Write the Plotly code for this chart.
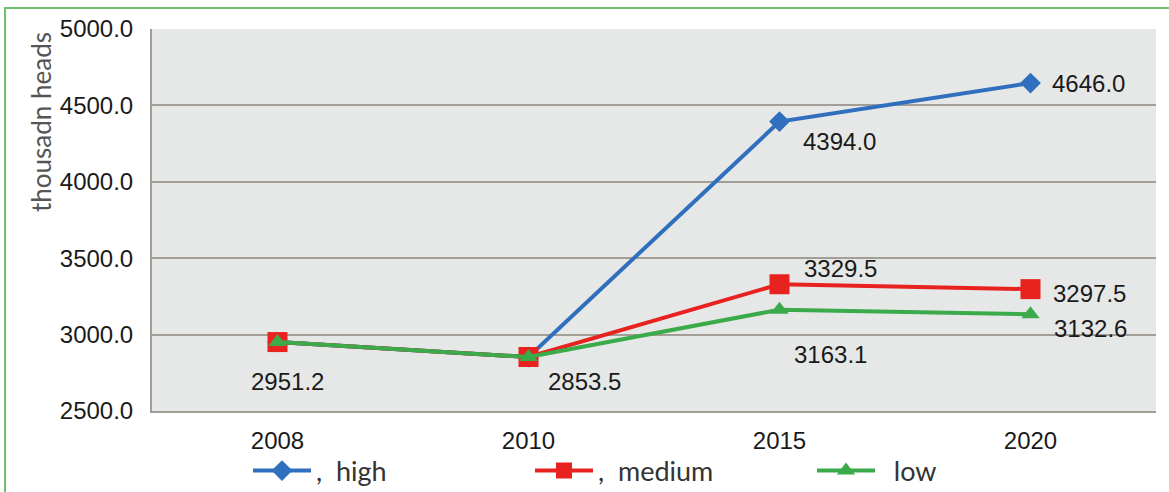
import plotly.graph_objects as go

years = ["2008", "2010", "2015", "2020"]
high = [2951.2, 2853.5, 4394.0, 4646.0]
medium = [2951.2, 2853.5, 3329.5, 3297.5]
low = [2951.2, 2853.5, 3163.1, 3132.6]
y_ticks = [2500, 3000, 3500, 4000, 4500, 5000]
y_tick_text = ["2500.0", "3000.0", "3500.0", "4000.0", "4500.0", "5000.0"]

# data labels: (series, index, xshift, yshift)
label_specs = [
    (low, 0, 10, -39),
    (low, 1, 56, -25),
    (high, 2, 60, -20),
    (high, 3, 58, 0),
    (medium, 2, 61, 16),
    (medium, 3, 59, -4),
    (low, 2, 51, -45),
    (low, 3, 60, -14),
]

L, R, T, B = 152, 13, 29, 81
W, H = 1169, 492
pw = W - L - R
ph = H - T - B
xpos = list(range(len(years)))

fig = go.Figure()
fig.add_trace(go.Scatter(
    x=xpos, y=high, name=",\u00a0 high", mode="lines+markers",
    line=dict(color="#2f6fbe", width=4),
    marker=dict(symbol="diamond", size=16, color="#2f6fbe"),
))
fig.add_trace(go.Scatter(
    x=xpos, y=medium, name=",\u00a0 medium", mode="lines+markers",
    line=dict(color="#e8231f", width=4),
    marker=dict(symbol="square", size=20, color="#e8231f"),
))
fig.add_trace(go.Scatter(
    x=xpos, y=low, name="\u00a0 low", mode="lines+markers",
    line=dict(color="#3aaa4a", width=4),
    marker=dict(symbol="triangle-up", size=16, color="#3aaa4a"),
))

annotations = []
for series, i, dx, dy in label_specs:
    annotations.append(dict(
        x=xpos[i], y=series[i], xref="x", yref="y",
        text=f"{series[i]:.1f}", showarrow=False,
        xanchor="center", yanchor="middle", xshift=dx, yshift=dy,
        font=dict(family="Liberation Sans, Arial", size=24, color="#1a1a1a"),
    ))

annotations.append(dict(
    x=(41 - L) / pw, y=(H - B - 122) / ph, xref="paper", yref="paper",
    text="thousadn heads", textangle=-90, showarrow=False,
    xanchor="center", yanchor="middle",
    font=dict(family="Lato, Open Sans", size=26, color="#555555"),
))

fig.update_layout(
    width=W, height=H,
    margin=dict(l=L, r=R, t=T, b=B, pad=0, autoexpand=False),
    paper_bgcolor="white",
    plot_bgcolor="#e6e8e7",
    showlegend=True,
    legend=dict(
        orientation="h", x=(248 - L) / pw, xanchor="left",
        y=(H - B - 471) / ph, yanchor="middle",
        font=dict(family="Lato, Open Sans", size=27, color="#333333"),
        itemwidth=58, entrywidth=209, entrywidthmode="pixels",
        bgcolor="rgba(0,0,0,0)",
    ),
    annotations=annotations,
    shapes=[dict(
        type="rect", xref="paper", yref="paper",
        x0=(5 - L) / pw, x1=(1180 - L) / pw,
        y0=(H - B - 505) / ph, y1=(H - B - 8) / ph,
        line=dict(color="#6cc070", width=2), fillcolor="rgba(0,0,0,0)",
        layer="below",
    )],
)

fig.update_xaxes(
    range=[-0.5, len(years) - 0.5], tickvals=xpos, ticktext=years,
    showgrid=False, showline=True, zeroline=False, automargin=False,
    linecolor="#a29c96", linewidth=2,
    ticks="", ticklabelstandoff=7,
    tickfont=dict(family="Liberation Sans, Arial", size=24, color="#1a1a1a"),
)
fig.update_yaxes(
    range=[2500, 5000], tickvals=y_ticks, ticktext=y_tick_text,
    showgrid=True, gridcolor="#a39d97", gridwidth=2, automargin=False,
    showline=True, linecolor="#a29c96", linewidth=2,
    zeroline=False, ticks="", ticklabelstandoff=12,
    tickfont=dict(family="Liberation Sans, Arial", size=24, color="#1a1a1a"),
)

fig.write_html("out.html", config={"displayModeBar": False},
               post_script="document.body.style.margin='0';")
